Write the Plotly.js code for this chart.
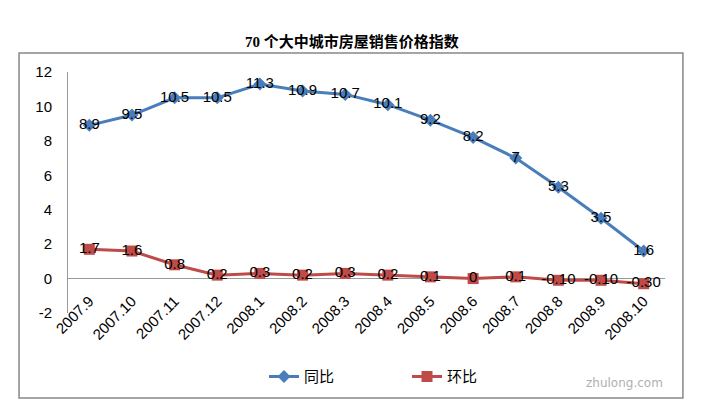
<!DOCTYPE html>
<html>
<head>
<meta charset="utf-8">
<script src="https://cdn.plot.ly/plotly-3.0.1.min.js"></script>
<style>html,body{margin:0;padding:0;background:#fff;}#chart{width:708px;height:406px;}</style>
</head>
<body>
<div id="chart"></div>
<script>
var categories = ["2007.9","2007.10","2007.11","2007.12","2008.1","2008.2","2008.3","2008.4","2008.5","2008.6","2008.7","2008.8","2008.9","2008.10"];
var yoyValues = [8.9, 9.5, 10.5, 10.5, 11.3, 10.9, 10.7, 10.1, 9.2, 8.2, 7, 5.3, 3.5, 1.6];
var momValues = [1.7, 1.6, 0.8, 0.2, 0.3, 0.2, 0.3, 0.2, 0.1, 0, 0.1, -0.1, -0.1, -0.3];
var yoyLabels = ["8.9","9.5","10.5","10.5","11.3","10.9","10.7","10.1","9.2","8.2","7","5.3","3.5","1.6"];
var momLabels = ["1.7","1.6","0.8","0.2","0.3","0.2","0.3","0.2","0.1","0","0.1","-0.10","-0.10","-0.30"];
var yTicks = [-2, 0, 2, 4, 6, 8, 10, 12];

var labelFont = {family: "Liberation Sans, Arial, sans-serif", size: 15, color: "#000"};

var traces = [
  {
    x: categories, y: yoyValues, name: "同比", type: "scatter", mode: "lines+markers+text",
    line: {color: "#4A7EBB", width: 3},
    marker: {symbol: "diamond", size: 10, color: "#4A7EBB"},
    text: yoyLabels, textposition: "middle center", textfont: labelFont, cliponaxis: false
  },
  {
    x: categories, y: momValues, name: "环比", type: "scatter", mode: "lines+markers+text",
    line: {color: "#BE4B48", width: 3},
    marker: {symbol: "square", size: 11, color: "#BE4B48"},
    text: momLabels, textposition: "middle center", textfont: labelFont, cliponaxis: false
  }
];

var layout = {
  width: 708, height: 406,
  margin: {l: 68, r: 43, t: 72, b: 93},
  paper_bgcolor: "#fff", plot_bgcolor: "#fff",
  title: {
    text: "<b>70 个大中城市房屋销售价格指数</b>",
    font: {family: "Liberation Serif, Noto Sans CJK SC, serif", size: 15, color: "#000"},
    x: 0.497, xanchor: "center", y: 0.897, yanchor: "middle"
  },
  xaxis: {
    type: "category", range: [-0.5, 13.5],
    anchor: "free", position: 2 / 14,
    showline: false, showgrid: false, zeroline: false,
    tickangle: -45, ticks: "", ticklabelstandoff: 10,
    tickfont: {family: "Liberation Sans, Arial, sans-serif", size: 15, color: "#000"}
  },
  yaxis: {
    range: [-2, 12], tickvals: yTicks, ticktext: yTicks.map(String),
    showgrid: false, showline: true, linecolor: "#999", linewidth: 1,
    zeroline: true, zerolinecolor: "#999", zerolinewidth: 1,
    ticks: "", ticklen: 0, ticklabelstandoff: 12,
    tickfont: {family: "Liberation Sans, Arial, sans-serif", size: 15, color: "#000"}
  },
  showlegend: true,
  legend: {
    orientation: "h", x: (264 - 68) / 597, xanchor: "left", y: -0.265, yanchor: "middle",
    font: {family: "Noto Sans CJK SC, sans-serif", size: 15, color: "#000"},
    entrywidth: 98, entrywidthmode: "pixels", tracegroupgap: 0
  },
  shapes: [
    {type: "rect", xref: "paper", yref: "paper", x0: -0.082, x1: 1.030, y0: -0.353, y1: 1.079,
     line: {color: "#888", width: 1.5}, fillcolor: "rgba(0,0,0,0)", layer: "below"}
  ],
  annotations: [
    {text: "zhulong.com", xref: "paper", yref: "paper", x: 1.0, y: -0.29, xanchor: "right", yanchor: "middle",
     showarrow: false, font: {family: "DejaVu Sans, sans-serif", size: 12, color: "#b0b0b0"}}
  ]
};

Plotly.newPlot("chart", traces, layout, {staticPlot: true, displayModeBar: false});
</script>
</body>
</html>
